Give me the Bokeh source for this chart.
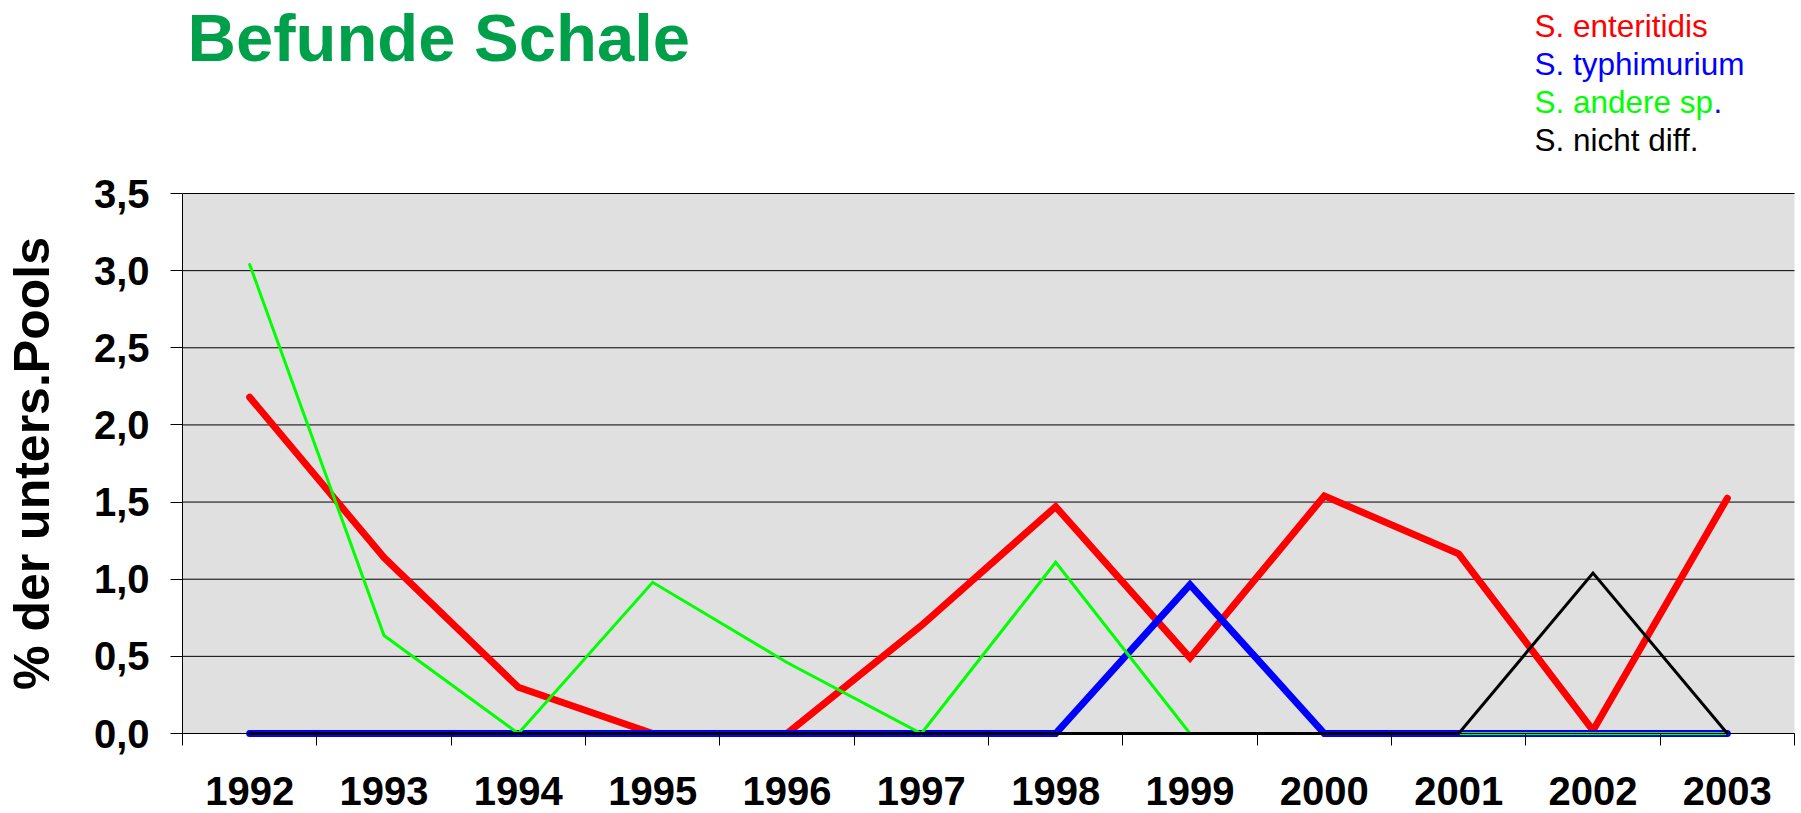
from bokeh.plotting import figure
from bokeh.models import Range1d, FixedTicker, Label, BoxAnnotation
from bokeh.embed import file_html
from bokeh.resources import INLINE

# ---------------- data ----------------
years = ["1992", "1993", "1994", "1995", "1996", "1997",
         "1998", "1999", "2000", "2001", "2002", "2003"]

s_enteritidis = [2.18, 1.14, 0.30, 0.00, 0.00, 0.70, 1.47, 0.49, 1.54, 1.165, 0.02, 1.525]
s_typhimurium = [0.00, 0.00, 0.00, 0.00, 0.00, 0.00, 0.00, 0.965, 0.00, 0.00, 0.00, 0.00]
s_andere_sp   = [3.04, 0.635, 0.00, 0.98, 0.46, 0.00, 1.11, 0.00, 0.00, 0.00, 0.00, 0.00]
s_nicht_diff  = [0.00, 0.00, 0.00, 0.00, 0.00, 0.00, 0.00, 0.00, 0.00, 0.00, 1.04, 0.00]

series_names = ["S. enteritidis", "S. typhimurium", "S. andere sp", "S. nicht diff."]
series_colors = ["#FF0000", "#0000FF", "#00FF00", "#000000"]

y_ticks = [0.0, 0.5, 1.0, 1.5, 2.0, 2.5, 3.0, 3.5]
y_tick_labels = ["0,0", "0,5", "1,0", "1,5", "2,0", "2,5", "3,0", "3,5"]

title_text = "Befunde Schale"
y_title = "% der unters.Pools"

FONT = "Liberation Sans"

# ---------------- geometry (pixels) ----------------
W, H = 1800, 812
PL, PR = 182, 1794      # plot area left / right
PT, PB = 193, 733       # plot area top (3.5) / bottom (0)
NX = len(years)
YMAX = y_ticks[-1]
UX = (PR - PL) / NX
UY = (PB - PT) / YMAX

def dx(px):
    return (px - PL) / UX

def dy(py):
    return (PB - py) / UY

xs = [i + 0.5 for i in range(NX)]
bounds = [float(i) for i in range(NX + 1)]

p = figure(width=W, height=H, x_range=Range1d(dx(0), dx(W)), y_range=Range1d(dy(H), dy(0)),
           output_backend="svg", toolbar_location=None, title=None,
           min_border=0, min_border_left=0, min_border_right=0,
           min_border_top=0, min_border_bottom=0,
           background_fill_color="white", border_fill_color="white",
           outline_line_color=None)
p.xgrid.visible = False
p.ygrid.visible = False

# grey plot area
p.add_layout(BoxAnnotation(left=0, right=NX, bottom=0, top=YMAX,
                           fill_color="#E0E0E0", fill_alpha=1.0,
                           line_color=None, level="underlay"))

# horizontal grid lines across the plot area
p.segment(x0=[0] * len(y_ticks), x1=[NX] * len(y_ticks), y0=y_ticks, y1=y_ticks,
          line_color="#000000", line_width=1)

# x axis at value 0: labels at category centres, ticks at category borders
xa = p.xaxis[0]
xa.fixed_location = 0
xa.bounds = (0, NX)
xa.ticker = FixedTicker(ticks=xs, minor_ticks=bounds)
xa.major_label_overrides = {x: y for x, y in zip(xs, years)}
xa.major_tick_out = 0
xa.major_tick_in = 0
xa.minor_tick_out = 12
xa.minor_tick_in = 0
xa.minor_tick_line_color = "#000000"
xa.axis_line_color = "#000000"
xa.major_label_standoff = 31
xa.major_label_text_font = FONT
xa.major_label_text_font_style = "bold"
xa.major_label_text_font_size = "40px"
xa.major_label_text_color = "#000000"

# y axis at x = 0
ya = p.yaxis[0]
ya.fixed_location = 0
ya.bounds = (0, YMAX)
ya.ticker = FixedTicker(ticks=y_ticks)
ya.major_label_overrides = {v: s for v, s in zip(y_ticks, y_tick_labels)}
ya.major_tick_out = 12
ya.major_tick_in = 0
ya.major_tick_line_color = "#000000"
ya.minor_tick_out = 0
ya.minor_tick_in = 0
ya.axis_line_color = "#000000"
ya.major_label_standoff = 21
ya.major_label_text_font = FONT
ya.major_label_text_font_style = "bold"
ya.major_label_text_font_size = "40px"
ya.major_label_text_color = "#000000"
ya.axis_label = y_title
ya.axis_label_text_font = FONT
ya.axis_label_text_font_style = "bold"
ya.axis_label_text_font_size = "50px"
ya.axis_label_text_color = "#000000"
ya.axis_label_standoff = 31

# series lines
all_series = [s_enteritidis, s_typhimurium, s_andere_sp, s_nicht_diff]
widths = [7, 7, 3, 3]
for vals, col, w in zip(all_series, series_colors, widths):
    p.line(xs, vals, line_color=col, line_width=w, line_join="miter", line_cap="round")

# title (y = vertical middle of the text)
p.add_layout(Label(x=dx(187), y=dy(37), text=title_text, text_font=FONT,
                   text_font_style="bold", text_font_size="67px",
                   text_color="#00A04B", text_align="left",
                   text_baseline="middle"))

# legend texts (coloured words), y = vertical middle of each line
leg_mid = [25, 63, 101, 139]
for name, col, m in zip(series_names, series_colors, leg_mid):
    p.add_layout(Label(x=dx(1534), y=dy(m), text=name, text_font=FONT,
                       text_font_size="31.5px", text_color=col,
                       text_align="left", text_baseline="middle"))
p.add_layout(Label(x=dx(1713), y=dy(leg_mid[2]), text=".", text_font=FONT,
                   text_font_size="31.5px", text_color="#0000FF",
                   text_align="left", text_baseline="middle"))

open("out.html", "w").write(file_html(p, INLINE))
